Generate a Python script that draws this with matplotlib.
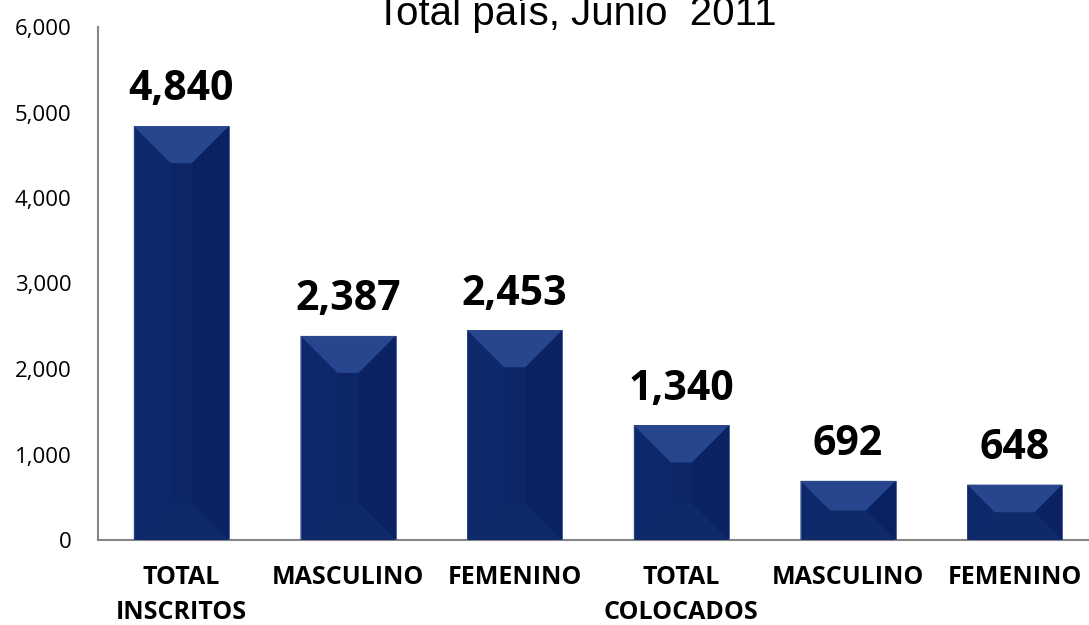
import numpy as np
import matplotlib.pyplot as plt
from matplotlib.patches import Polygon

categorias = ['TOTAL\nINSCRITOS', 'MASCULINO', 'FEMENINO', 'TOTAL\nCOLOCADOS', 'MASCULINO', 'FEMENINO']
valores = [4840, 2387, 2453, 1340, 692, 648]
yticks = [0, 1000, 2000, 3000, 4000, 5000, 6000]
titulo = 'Total país, Junio  2011'

fig = plt.figure(figsize=[10.89, 6.25], dpi=100)
ax = fig.add_axes([98/1089., 0.136, 1000/1089., 0.8208])

x = np.arange(len(valores))
ancho = 0.57
bars = ax.bar(x, valores, width=ancho, color='#0c2667', edgecolor='none', zorder=2)

ax.set_xlim(-0.5, 5.5)
ax.set_ylim(0, 6000)

# bevel look, sizes in pixels converted to data units
xpx = 1000./6.
ypx = 0.8208*625/6000.
for b in bars:
    x0, w, h = b.get_x(), b.get_width(), b.get_height()
    x1 = x0 + w
    bp = min(37., h*ypx/2.)
    dx, dy = bp/xpx, bp/ypx
    top = [(x0, h), (x1, h), (x1-dx, h-dy), (x0+dx, h-dy)]
    bot = [(x0, 0), (x1, 0), (x1-dx, dy), (x0+dx, dy)]
    left = [(x0, 0), (x0+dx, dy), (x0+dx, h-dy), (x0, h)]
    right = [(x1, 0), (x1-dx, dy), (x1-dx, h-dy), (x1, h)]
    ax.add_patch(Polygon(left, closed=True, facecolor='#0e296b', edgecolor='none', zorder=3))
    ax.add_patch(Polygon(right, closed=True, facecolor='#0a2262', edgecolor='none', zorder=3))
    ax.add_patch(Polygon(bot, closed=True, facecolor='#0f2a6a', edgecolor='none', zorder=3))
    ax.add_patch(Polygon(top, closed=True, facecolor='#28468d', edgecolor='none', zorder=3))
    ax.add_patch(plt.Rectangle((x0, 0), w, h, facecolor='none', edgecolor='#2f4b8a', linewidth=0.6, zorder=4))

for xi, v in zip(x, valores):
    ax.annotate('{:,}'.format(v), (xi, v), xytext=(0, 18.5), textcoords='offset points',
                ha='center', va='baseline', fontsize=29.5, fontweight='bold', family='Open Sans', color='black')

ax.set_yticks(yticks)
ax.set_yticklabels(['{:,}'.format(t) for t in yticks], fontsize=16, family='Open Sans')
ax.set_xticks(x)
ax.set_xticklabels(categorias, fontsize=18, fontweight='bold', family='Open Sans', linespacing=1.55)
ax.tick_params(axis='y', length=0, pad=19)
ax.tick_params(axis='x', length=0, pad=18)

for s in ['top', 'right']:
    ax.spines[s].set_visible(False)
for s in ['left', 'bottom']:
    ax.spines[s].set_color('#868686')
    ax.spines[s].set_linewidth(1.5)

fig.text(576/1089., 1-25/625., titulo, ha='center', va='baseline', fontsize=29, family='Liberation Sans')

plt.savefig('out.png', dpi=100)
